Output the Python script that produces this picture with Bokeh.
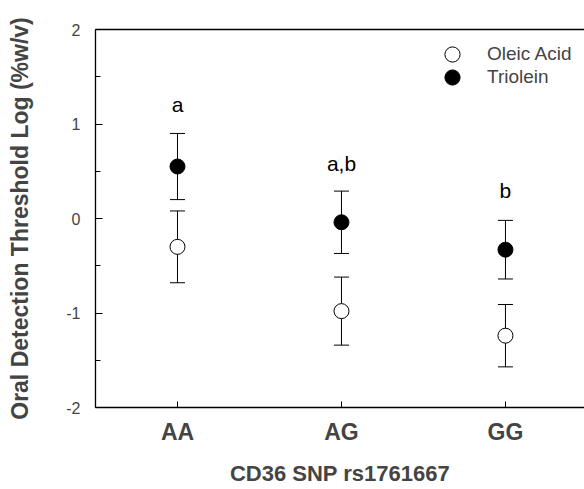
from bokeh.plotting import figure
from bokeh.models import (ColumnDataSource, Whisker, SingleIntervalTicker, FixedTicker,
                          LinearAxis, Legend, LegendItem, Range1d)
from bokeh.core.properties import value
from bokeh.embed import file_html
from bokeh.resources import INLINE

genotypes = ["AA", "AG", "GG"]
xpos = [0, 1, 2]
oleic_mean = [-0.30, -0.98, -1.24]
oleic_err = [0.38, 0.36, 0.33]
triolein_mean = [0.55, -0.04, -0.33]
triolein_err = [0.35, 0.33, 0.31]
sig_labels = ["a", "a,b", "b"]
sig_y = [1.21, 0.58, 0.30]
y_ticks = [-2, -1, 0, 1, 2]
y_tick_labels = ["-2", "-1", "0", "1", "2"]

FONT = "Liberation Sans"

p = figure(width=584, height=489, output_backend="svg", toolbar_location=None,
           x_range=Range1d(-0.5, 2.482), y_range=Range1d(-2, 2),
           min_border_left=95, min_border_top=29, min_border_bottom=82, min_border_right=0,
           outline_line_color=None, background_fill_color="white")
p.grid.visible = False

ol = ColumnDataSource(dict(x=xpos, y=oleic_mean,
                           lo=[m - e for m, e in zip(oleic_mean, oleic_err)],
                           hi=[m + e for m, e in zip(oleic_mean, oleic_err)]))
tr = ColumnDataSource(dict(x=xpos, y=triolein_mean,
                           lo=[m - e for m, e in zip(triolein_mean, triolein_err)],
                           hi=[m + e for m, e in zip(triolein_mean, triolein_err)]))
for src in (ol, tr):
    w = Whisker(source=src, base="x", lower="lo", upper="hi", line_color="black", line_width=1)
    w.upper_head.size = 15
    w.lower_head.size = 15
    w.upper_head.line_width = 1
    w.lower_head.line_width = 1
    p.add_layout(w)

r_ol = p.scatter("x", "y", source=ol, size=15, marker="circle", fill_color="white",
                 line_color="black", line_width=1)
r_tr = p.scatter("x", "y", source=tr, size=15, marker="circle", fill_color="black",
                 line_color="black", line_width=1)

lab = ColumnDataSource(dict(x=xpos, y=sig_y, t=sig_labels))
p.text("x", "y", text="t", source=lab, text_font=value(FONT), text_font_size="21px",
       text_align="center", text_baseline="alphabetic", text_color="black")

# y axis
ya = p.yaxis[0]
ya.ticker = SingleIntervalTicker(interval=1, num_minor_ticks=2)
ya.major_label_overrides = {t: s for t, s in zip(y_ticks, y_tick_labels)}
ya.major_tick_in = 7
ya.major_tick_out = 0
ya.minor_tick_in = 5
ya.minor_tick_out = 0
ya.axis_line_width = 1.3
ya.major_label_text_font = FONT
ya.major_label_text_font_size = "16px"
ya.major_label_standoff = 15
ya.axis_label = "Oral Detection Threshold Log (%w/v)"
ya.axis_label_text_font = FONT
ya.axis_label_text_font_style = "bold"
ya.axis_label_text_font_size = "23px"
ya.axis_label_standoff = 30

xa = p.xaxis[0]
xa.ticker = FixedTicker(ticks=xpos)
xa.major_label_overrides = {x: g for x, g in zip(xpos, genotypes)}
xa.major_tick_in = 6
xa.major_tick_out = 0
xa.minor_tick_line_color = None
xa.axis_line_width = 1.3
xa.major_label_text_font = FONT
xa.major_label_text_font_style = "bold"
xa.major_label_text_font_size = "23px"
xa.major_label_standoff = 11
xa.axis_label = "CD36 SNP rs1761667"
xa.axis_label_text_font = FONT
xa.axis_label_text_font_style = "bold"
xa.axis_label_text_font_size = "22px"
xa.axis_label_standoff = 13

top = LinearAxis(major_tick_line_color=None, minor_tick_line_color=None,
                 major_label_text_font_size="0px", axis_line_width=1.3)
top.major_label_text_color = None
p.add_layout(top, "above")

common = dict(padding=0, margin=0, spacing=0, glyph_width=38, glyph_height=38,
              label_height=38, label_standoff=16, border_line_color=None,
              background_fill_alpha=0, label_text_font=FONT, label_text_font_size="19px")
leg1 = Legend(items=[LegendItem(label="Oleic Acid", renderers=[r_ol])],
              location=(338, 334), **common)
leg2 = Legend(items=[LegendItem(label="Triolein", renderers=[r_tr])],
              location=(338, 311), **common)
p.add_layout(leg1, "center")
p.add_layout(leg2, "center")

open("out.html", "w").write(file_html(p, INLINE))
